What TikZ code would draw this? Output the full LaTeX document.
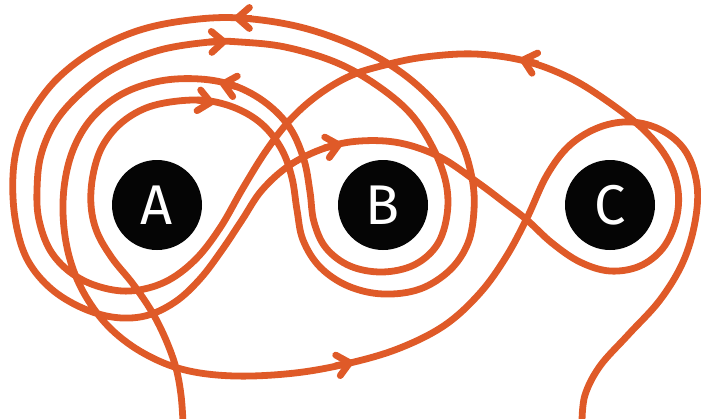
\documentclass[tikz,border=0pt]{standalone}
\usepackage{fontspec}
\newfontfamily\labfont{Fira Sans}
\usetikzlibrary{arrows.meta}
\definecolor{rope}{RGB}{223,90,40}
\definecolor{ballc}{RGB}{5,5,5}
\begin{document}
\begin{tikzpicture}[x=1pt,y=-1pt,
  curve/.style={draw=rope,line width=6.8pt,line join=round},
  tipmark/.style={draw=rope,line width=6.8pt,-{Straight Barb[length=12pt,width=21pt,round]}},
  ball/.style={circle,fill=ballc,minimum size=90pt,inner sep=0pt,text=white,font=\labfont\fontsize{56}{56}\selectfont}]
\useasboundingbox (0,0) rectangle (701,418);
\clip (0,0) rectangle (701,418);
\node[ball] (A) at (157,205) {A};
\node[ball] (B) at (383,205) {B};
\node[ball] (C) at (610,205) {C};
\draw[curve] plot[smooth,tension=0.6] coordinates {
(183,422) (181,395) (176,368) (166,340) (152,312) (133,284) (112,258) (97,232) (91,205)
(93,175) (102,147) (120,124) (146,108) (178,101) (210,101) (240,110) (264,126) (282,150)
(292,178) (297,210) (303,240) (320,267) (348,286) (383,294) (420,289) (450,270) (468,243)
(474,210) (472,178) (461,142) (438,106) (402,73) (357,47) (300,27) (240,18) (190,20)
(140,30) (95,50) (58,78) (33,110) (19,140) (13,175) (15,218) (26,257) (48,286) (78,306) (112,317)
(145,316) (175,302) (200,279) (222,250) (242,220) (262,190) (290,165) (325,148) (360,141)
(400,143) (440,157) (477,182) (505,203) (527,220) (552,243) (580,262) (610,271) (640,266)
(663,248) (676,220) (678,190) (668,160) (645,131) (610,103) (570,78) (525,61) (475,54)
(425,57) (385,65) (350,76) (318,95) (290,120) (266,151) (243,188) (220,228) (195,260)
(165,282) (130,291) (97,286) (70,272) (50,250) (39,220) (37,190) (41,155) (56,121)
(82,92) (115,68) (160,50) (210,42) (240,42) (285,47) (335,62) (375,84) (410,113) (433,148)
(446,183) (447,215) (437,245) (414,265) (382,272) (350,266) (326,248) (314,222) (310,192)
(304,160) (290,128) (266,103) (235,86) (200,79) (160,81) (122,94) (92,118) (73,150)
(64,188) (64,228) (72,266) (88,300) (112,330) (145,354) (185,370) (235,376) (295,373)
(350,363) (400,348) (445,325) (480,293) (506,257) (527,218) (547,175) (570,145) (600,127)
(632,122) (663,131) (686,152) (697,185) (695,222) (683,262) (660,300) (628,335) (600,366)
(585,395) (582,422)};
\coordinate (t1a) at (252,18);  \coordinate (t1b) at (234,18);
\coordinate (t2a) at (209,42);  \coordinate (t2b) at (227,41.5);
\coordinate (t3a) at (238,87);  \coordinate (t3b) at (220,83);
\coordinate (t4a) at (197,100); \coordinate (t4b) at (214,103);
\coordinate (t5a) at (324,148); \coordinate (t5b) at (342,144);
\coordinate (t6a) at (335,366); \coordinate (t6b) at (353,362);
\coordinate (t7a) at (538,64);  \coordinate (t7b) at (520,59);
\draw[tipmark] (t1a) -- (t1b);
\draw[tipmark] (t2a) -- (t2b);
\draw[tipmark] (t3a) -- (t3b);
\draw[tipmark] (t4a) -- (t4b);
\draw[tipmark] (t5a) -- (t5b);
\draw[tipmark] (t6a) -- (t6b);
\draw[tipmark] (t7a) -- (t7b);
\end{tikzpicture}
\end{document}
